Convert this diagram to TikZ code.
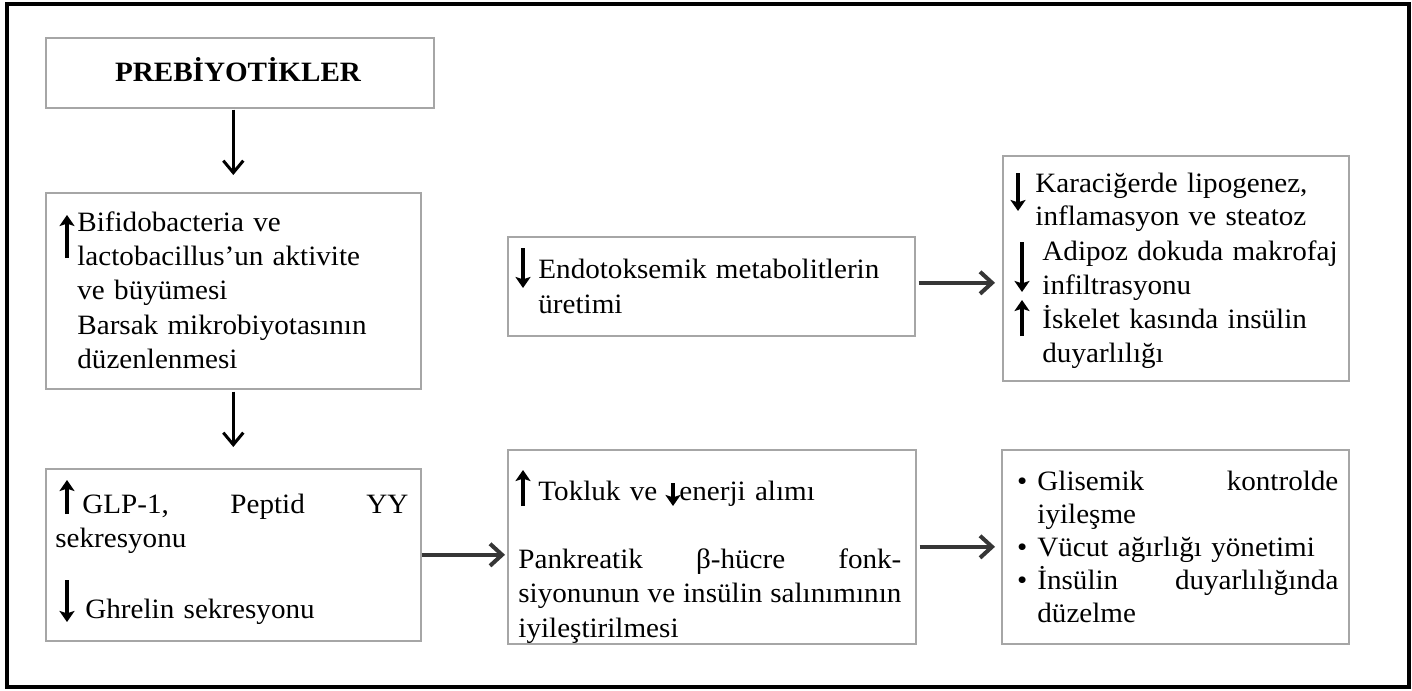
\documentclass[tikz,border=0pt]{standalone}
\usepackage{fontspec}
\usetikzlibrary{arrows.meta}
\setmainfont{Liberation Serif}[FakeStretch=1.04]
\newcommand\fullline[2]{\leavevmode\hbox to #1{#2}}
\newcommand\bul{\leavevmode\llap{•\hspace{5pt}}}
\definecolor{boxgray}{HTML}{A6A6A6}
\definecolor{arrgray}{HTML}{363636}
\tikzset{
  box/.style={draw=boxgray, line width=0.8pt, anchor=north west, inner sep=0pt, minimum width=#1},
  txt/.style={anchor=base west, inner sep=0pt, text width=#1, font=\fontsize{14}{17.2}\selectfont},
  varr/.style={line width=1.5pt, -{Straight Barb[length=6pt,width=10pt,line width=1.5pt]}},
  harr/.style={draw=arrgray, line width=2pt, -{Straight Barb[length=6pt,width=11pt,line width=2pt]}},
  symarr/.style={line width=1.7pt, -{Stealth[length=5.5pt,width=7.5pt,inset=1.2pt]}}
}
\begin{document}
\begin{tikzpicture}[x=0.5pt,y=-0.5pt]
\useasboundingbox (0,0) rectangle (1412,690);
\fill[white] (0,0) rectangle (1412,690);
\draw[line width=1.6pt] (7,4) rectangle (1409,687);

% boxes
\node[box=194pt, minimum height=35pt] (pre) at (45,37) {};
\node[box=187.5pt, minimum height=98pt] (bif) at (45,192) {};
\node[box=187.5pt, minimum height=86pt] (glp) at (45,468) {};
\node[box=203.5pt, minimum height=49.5pt] (endo) at (507,236) {};
\node[box=173pt, minimum height=112.5pt] (rt) at (1002,155) {};
\node[box=204pt, minimum height=97pt] (mid) at (507,449) {};
\node[box=173.5pt, minimum height=97pt] (rb) at (1001,449) {};

% texts
\node[anchor=base, inner sep=0pt, font=\fontsize{14}{16}\selectfont\bfseries] (preT) at (238,82) {PREBİYOTİKLER};

\node[txt=172pt] (bifT) at (77,231) {Bifidobacteria ve\\lactobacillus’un aktivite\\ve büyümesi\\Barsak mikrobiyotasının\\düzenlenmesi};

\node[txt=185pt, font=\fontsize{14}{17.5}\selectfont] (endoT) at (538,278) {Endotoksemik metabolitlerin\\üretimi};

\node[txt=155pt, font=\fontsize{14}{16.5}\selectfont] (rtT1) at (1035,192) {Karaciğerde lipogenez,\\inflamasyon ve steatoz};
\node[txt=152pt, font=\fontsize{14}{17}\selectfont] (rtT2) at (1042,260) {Adipoz dokuda makrofaj\\infiltrasyonu\\İskelet kasında insülin\\duyarlılığı};

\node[txt=176.5pt] (glpT1) at (55,513) {\fullline{176.5pt}{\hspace*{13.5pt}GLP-1,\hfill Peptid\hfill YY}\\sekresyonu};
\node[txt=160pt] (glpT2) at (85,618) {Ghrelin sekresyonu};

\node[txt=70pt] (midT0) at (538,500) {Tokluk ve};
\node[txt=80pt] (midT1) at (679,500) {enerji alımı};
\node[txt=191.5pt, font=\fontsize{14}{17.3}\selectfont] (midT2) at (518,568) {\fullline{191.5pt}{Pankreatik\hfill β-hücre\hfill fonk-}\\\fullline{191.5pt}{siyonunun\hfill ve\hfill insülin\hfill salınımının}\\iyileştirilmesi};

\node[txt=150.5pt, font=\fontsize{14}{16.5}\selectfont] (rbT) at (1037,490) {\bul\fullline{150.5pt}{Glisemik\hfill kontrolde}\\iyileşme\\\bul Vücut ağırlığı yönetimi\\\bul\fullline{150.5pt}{İnsülin\hfill duyarlılığında}\\düzelme};

% up / down symbols (drawn shapes)
\draw[symarr] (67,258) -- (67,215);
\draw[symarr] (523,248) -- (523,288);
\draw[symarr] (1018,173) -- (1018,211);
\draw[symarr] (1022,242) -- (1022,292);
\draw[symarr] (1022,336) -- (1022,300);
\draw[symarr] (67,514) -- (67,480);
\draw[symarr] (67,580) -- (67,622);
\draw[symarr] (523,506) -- (523,470);
\draw[symarr] (673,483) -- (673,506);

% connectors
\draw[varr, shorten <=0.5pt, shorten >=8.5pt] (bif.north |- pre.south) -- (bif.north);
\draw[varr, shorten <=1pt, shorten >=10.5pt] (bif.south) -- (glp.north);
\draw[harr, shorten >=1pt] (glp.east) -- (glp.east -| mid.west);
\draw[harr, shorten <=1.5pt, shorten >=3pt] (mid.east |- rb.west) -- (rb.west);
\draw[harr, shorten <=1.5pt, shorten >=3.5pt] ([yshift=1.75pt]endo.east) -- ([yshift=1.75pt]endo.east -| rt.west);
\end{tikzpicture}
\end{document}
